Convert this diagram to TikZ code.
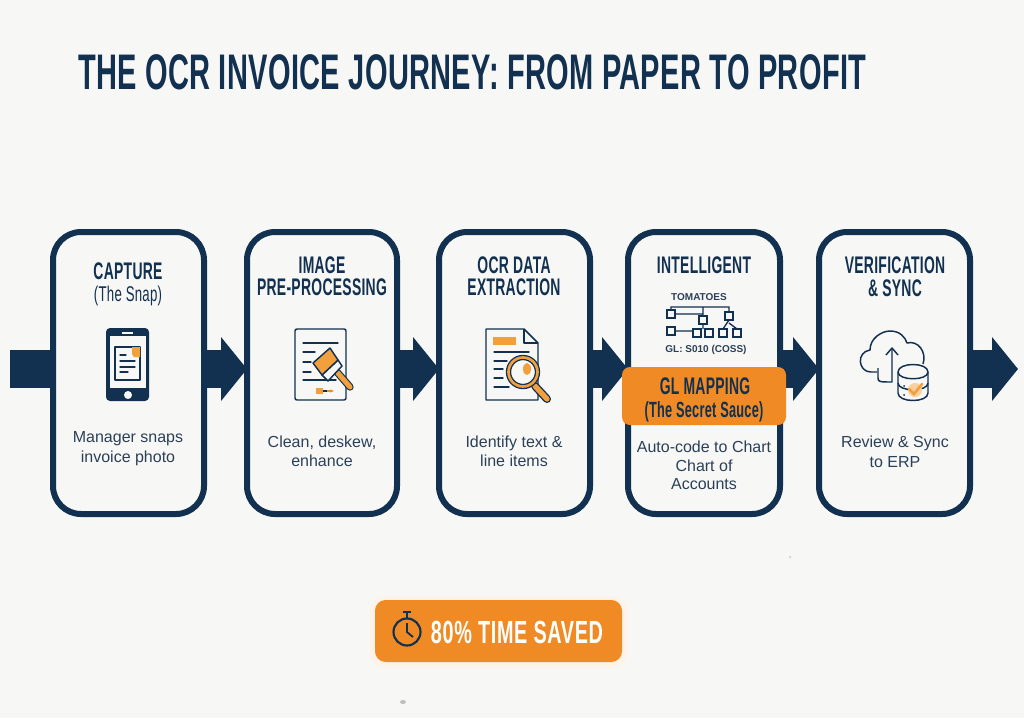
\documentclass[tikz,border=0pt]{standalone}
\usepackage{fontspec}
\setmainfont{Liberation Sans}
\newfontfamily\condf[FakeStretch=0.58,LetterSpace=1.2]{Liberation Sans}
\newfontfamily\subf[FakeStretch=0.62,LetterSpace=1.2]{Liberation Sans}
\newfontfamily\titlef[FakeStretch=0.58,LetterSpace=0.7]{Liberation Sans}
\newfontfamily\badgef[FakeStretch=0.62,LetterSpace=2]{Liberation Sans}
\usetikzlibrary{arrows.meta}
\definecolor{navy}{HTML}{12304F}
\definecolor{ink}{HTML}{2B4057}
\definecolor{orng}{HTML}{F08A24}
\definecolor{orngl}{HTML}{F2A03D}
\definecolor{paper}{HTML}{F7F7F6}
\tikzset{
  card/.style={draw=navy,line width=4.5pt,fill=paper,rounded corners=21pt,inner sep=0pt,outer sep=0pt,minimum height=211.5pt},
  flow/.style={draw=navy,line width=28.5pt,-{Triangle[length=19.5pt,width=47pt]}},
  flowstart/.style={draw=navy,line width=28.5pt},
  headt/.style={anchor=base,text=navy,inner sep=0pt,font=\condf\bfseries\fontsize{18pt}{18pt}\selectfont},
  subt/.style={anchor=base,text=navy,inner sep=0pt,font=\subf\fontsize{16pt}{16pt}\selectfont},
  desct/.style={anchor=base,text=ink,inner sep=0pt,font=\fontsize{12pt}{12pt}\selectfont},
  smallt/.style={anchor=base,text=ink,inner sep=0pt,font=\bfseries\fontsize{7.5pt}{7.5pt}\selectfont},
  ic/.style={draw=navy,line width=1.1pt,line join=round},
  icthin/.style={draw=navy,line width=1pt,line cap=round},
}
\begin{document}
\begin{tikzpicture}[x=0.75pt,y=-0.75pt]
\useasboundingbox (0,0) rectangle (1024,718);
\fill[paper] (0,0) rectangle (1024,718);
% faint specks
\fill[gray!70,opacity=.7] (403,702) ellipse [x radius=3,y radius=2];
\fill[gray!30] (790,557) circle [radius=1.5];
% title
\node[anchor=base west,inner sep=0pt,text=navy,font=\titlef\bfseries\fontsize{37.5pt}{37.5pt}\selectfont] (title) at (78,89) {THE OCR INVOICE JOURNEY: FROM PAPER TO PROFIT};
% cards
\node[card,minimum width=113.25pt] (c1) at (128.5,373) {};
\node[card,minimum width=112.5pt] (c2) at (322,373) {};
\node[card,minimum width=113.25pt] (c3) at (514.5,373) {};
\node[card,minimum width=114pt] (c4) at (704,373) {};
\node[card,minimum width=113.25pt] (c5) at (894.5,373) {};
\coordinate (inflow) at (10,369);
\coordinate (outflow) at (1018,369);
\coordinate (c1w) at (53,369);
\coordinate (c1e) at (204,369);
\coordinate (c2w) at (247,369);
\coordinate (c2e) at (397,369);
\coordinate (c3w) at (439,369);
\coordinate (c3e) at (590,369);
\coordinate (c4w) at (628,369);
\coordinate (c4e) at (780,369);
\coordinate (c5w) at (819,369);
\coordinate (c5e) at (970,369);
% connectors
\draw[flowstart] (inflow) -- (c1w);
\draw[flow] (c1e) -- (c2w);
\draw[flow] (c2e) -- (c3w);
\draw[flow] (c3e) -- (c4w);
\draw[flow] (c4e) -- (c5w);
\draw[flow] (c5e) -- (outflow);
% card 1 text
\node[headt] (h1a) at (128,279) {CAPTURE};
\node[subt] (h1b) at (128,301) {(The Snap)};
\node[desct] (d1a) at (128,442) {Manager snaps};
\node[desct] (d1b) at (128,462) {invoice photo};
% card 2 text
\node[headt] (h2a) at (322,273) {IMAGE};
\node[headt] (h2b) at (322,295) {PRE-PROCESSING};
\node[desct] (d2a) at (322,447) {Clean, deskew,};
\node[desct] (d2b) at (322,466) {enhance};
% card 3 text
\node[headt] (h3a) at (514,273) {OCR DATA};
\node[headt] (h3b) at (514,295) {EXTRACTION};
\node[desct] (d3a) at (514,447) {Identify text \&};
\node[desct] (d3b) at (514,466) {line items};
% card 4 text
\node[headt] (h4a) at (704,273) {INTELLIGENT};
\node[smallt] (tom) at (699,300) {TOMATOES};
\node[smallt] (gl) at (706,352) {GL: S010 (COSS)};
% orange band
\node[fill=orng,rounded corners=6pt,minimum width=123pt,minimum height=43.5pt,inner sep=0pt] (band) at (704,396) {};
\node[headt] (bandA) at (705,394) {GL MAPPING};
\node[headt,font=\condf\bfseries\fontsize{16.5pt}{16.5pt}\selectfont] (bandB) at (704,417) {(The Secret Sauce)};
\node[desct] (d4a) at (704,452) {Auto-code to Chart};
\node[desct] (d4b) at (704,471) {Chart of};
\node[desct] (d4c) at (704,489) {Accounts};
% card 5 text
\node[headt] (h5a) at (895,273) {VERIFICATION};
\node[headt] (h5b) at (895,296) {\& SYNC};
\node[desct] (d5a) at (895,447) {Review \& Sync};
\node[desct] (d5b) at (895,467) {to ERP};
% phone icon
\fill[navy,rounded corners=3pt] (106,328) rectangle (149,401);
\fill[paper] (110,336) rectangle (146,388);
\draw[paper,line width=.9pt] (122,333) -- (133,333);
\fill[paper] (128,395) circle [radius=4];
\draw[ic,fill=paper] (115,347) rectangle (140,380);
\fill[orngl] (132,347) -- (140,347) -- (140,357) -- (134,357) -- (132,354) -- cycle;
\draw[icthin] (120,355) -- (126,355) (120,361) -- (135,361) (120,367) -- (135,367) (120,372) -- (128,372);
% brush icon
\draw[ic,rounded corners=1.5pt,fill=paper] (295,329) rectangle (346,400);
\draw[icthin] (303,343) -- (338,343) (303,352) -- (315,352) (303,362) -- (311,362) (303,372) -- (311,372) (303,380) -- (336,380);
\draw[navy,line width=5.5pt,line cap=round] (337,372) -- (350,387);
\draw[orngl,line width=3.8pt,line cap=round] (337,372) -- (350,387);
\draw[ic,fill=paper] (322,375) -- (338,360) -- (342,366) -- (328,381) -- cycle;
\draw[ic,fill=orngl] (313,363) -- (330,348) -- (338,360) -- (322,375) -- cycle;
\fill[orngl] (316,388) rectangle (323,394);
\draw[navy,line width=.9pt] (323,391) -- (327,391);
\draw[orng,line width=1pt,-{Stealth[length=3pt]}] (327,391) -- (334,391);
% document + magnifier icon
\draw[ic,fill=paper] (486,329) -- (524,329) -- (538,343) -- (538,400) -- (486,400) -- cycle;
\draw[ic] (524,329) -- (524,343) -- (538,343);
\fill[orngl] (493,337) rectangle (516,345);
\draw[icthin] (494,352) -- (529,352) (494,361) -- (507,361) (494,369) -- (503,369) (494,378) -- (503,378) (494,387) -- (509,387);
\draw[navy,line width=6pt,line cap=round] (535,386) -- (547,399);
\draw[orngl,line width=4pt,line cap=round] (535,386) -- (547,399);
\draw[navy,fill=paper,line width=4pt] (523,372) circle [radius=14.5];
\draw[orngl,line width=2pt] (523,372) circle [radius=14.5];
\fill[orngl] (527,369) ellipse [x radius=4,y radius=6];
% chart-of-accounts icon
\draw[icthin,line cap=butt] (671,310) -- (671,307) -- (729,307) -- (729,312)
  (703,307) -- (703,316) (675,314) -- (703,314) (675,331) -- (692,331) (703,324) -- (703,329)
  (729,320) -- (723,329) (729,323) -- (737,329);
\foreach \bx/\by/\bn in {671/314/a,703/320/b,729/316/c,671/331/d,697/333/e,709/333/f,723/333/g,737/333/h}
  \node[draw=navy,line width=1pt,fill=paper,minimum size=6pt,inner sep=0pt] (box\bn) at (\bx,\by) {};
% cloud + database icon
\draw[ic] (877,372) -- (871,372) .. controls (858,372) and (856,352) .. (870,350)
  .. controls (870,338) and (882,331) .. (890,331)
  .. controls (900,331) and (905,337) .. (907,343)
  .. controls (918,340) and (927,352) .. (923,364);
\draw[ic] (878,368) -- (878,378) .. controls (878,382) and (880,382) .. (892,382) -- (892,349);
\draw[ic] (886,355) -- (892,348) -- (898,355);
\draw[ic,fill=paper] (898,372) -- (898,393) .. controls (898,403) and (928,403) .. (928,393) -- (928,372) .. controls (928,362) and (898,362) .. (898,372) -- cycle;
\draw[ic] (898,372) .. controls (898,381) and (928,381) .. (928,372);
\draw[ic] (898,383) .. controls (898,392) and (928,392) .. (928,383);
\fill[navy] (904,386) circle [radius=1] (904,395) circle [radius=1];
\fill[orngl!50] (915,390) circle [radius=7];
\draw[orngl,line width=2pt,line cap=round] (909,389) -- (914,394) -- (922,384);
% badge
\fill[orng!10,rounded corners=12pt] (370,596) rectangle (627,668);
\node[fill=orng,rounded corners=8pt,minimum width=185.25pt,minimum height=46.5pt,inner sep=0pt] (badge) at (498.5,631) {};
\draw[navy,line width=1.6pt] (407,632) circle [radius=13.5];
\draw[navy,line width=1.6pt] (403,612) -- (411,612) (407,612) -- (407,618);
\draw[navy,line width=1.4pt] (407,623) -- (407,632) -- (413,637);
\node[anchor=base,inner sep=0pt,text=white,font=\badgef\bfseries\fontsize{24pt}{24pt}\selectfont] (saved) at (517,643) {80\% TIME SAVED};
\end{tikzpicture}
\end{document}
